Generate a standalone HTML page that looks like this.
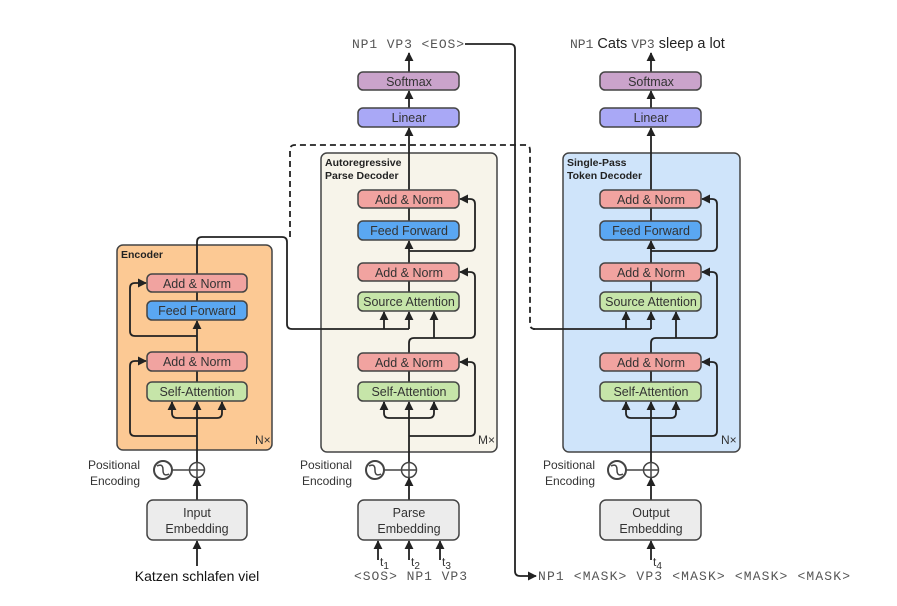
<!DOCTYPE html>
<html><head><meta charset="utf-8"><style>
html,body{margin:0;padding:0;background:#fff;}
svg{display:block;}
text{font-family:"Liberation Sans",sans-serif;fill:#333;}
.m{font-family:"Liberation Mono",monospace;fill:#555;}
</style></head><body>
<svg width="897" height="606" viewBox="0 0 897 606" xmlns="http://www.w3.org/2000/svg">
<defs>
<marker id="a" viewBox="0 0 10 10" refX="9" refY="5" markerWidth="9" markerHeight="9" orient="auto-start-reverse" markerUnits="userSpaceOnUse"><path d="M0,0 L10,5 L0,10 z" fill="#222"/></marker>
</defs>
<rect x="117" y="245" width="155" height="205" rx="6" fill="#fcc994" stroke="#444" stroke-width="1.5"/>
<rect x="321" y="153" width="176" height="299" rx="6" fill="#f7f4ea" stroke="#444" stroke-width="1.5"/>
<rect x="563" y="153" width="177" height="299" rx="6" fill="#cfe4fa" stroke="#444" stroke-width="1.5"/>
<text x="121" y="258" font-size="10.5" font-weight="bold" style="fill:#222">Encoder</text>
<text x="325" y="166" font-size="10.5" font-weight="bold" style="fill:#222">Autoregressive</text>
<text x="325" y="179" font-size="10.5" font-weight="bold" style="fill:#222">Parse Decoder</text>
<text x="567" y="166" font-size="10.5" font-weight="bold" style="fill:#222">Single-Pass</text>
<text x="567" y="179" font-size="10.5" font-weight="bold" style="fill:#222">Token Decoder</text>
<text x="255" y="444" font-size="12">N×</text>
<text x="478" y="444" font-size="12">M×</text>
<text x="721" y="444" font-size="12">N×</text>

<g fill="none" stroke="#222" stroke-width="1.8">
<path d="M290,237 V150 q0,-5 5,-5 H525 q5,0 5,5 V324 q0,5 5,5" stroke-dasharray="6,4"/>
<path d="M197,540 V478" marker-end="url(#a)"/>
<path d="M197,463 V402" marker-end="url(#a)"/>
<path d="M172,402 V413 q0,5 5,5 H217 q5,0 5,-5 V402" />
<path d="M172,410 V402" marker-end="url(#a)"/><path d="M222,410 V402" marker-end="url(#a)"/>
<path d="M197,382 V371"/>
<path d="M197,352 V321" marker-end="url(#a)"/>
<path d="M197,436 H135 q-5,0 -5,-5 V366 q0,-5 5,-5 H146" marker-end="url(#a)"/>
<path d="M197,336 H135 q-5,0 -5,-5 V288 q0,-5 5,-5 H146" marker-end="url(#a)"/>
<path d="M197,301 V292"/>
<path d="M197,274 V242 q0,-5 5,-5 H282 q5,0 5,5 V324 q0,5 5,5 H409"/>
<path d="M384,329 V312" marker-end="url(#a)"/><path d="M409,329 V312" marker-end="url(#a)"/>
<path d="M533,329 H651"/>
<path d="M626,329 V312" marker-end="url(#a)"/><path d="M651,329 V312" marker-end="url(#a)"/>
</g>

<g fill="none" stroke="#222" stroke-width="1.8">
<g id="dl">
<path d="M409,540 V478" marker-end="url(#a)"/>
<path d="M409,463 V402" marker-end="url(#a)"/>
<path d="M384,402 V413 q0,5 5,5 H429 q5,0 5,-5 V402"/>
<path d="M384,410 V402" marker-end="url(#a)"/><path d="M434,410 V402" marker-end="url(#a)"/>
<path d="M409,382 V371"/>
<path d="M409,436 H470 q5,0 5,-5 V367 q0,-5 -5,-5 H460" marker-end="url(#a)"/>
<path d="M409,353 V343 q0,-5 5,-5 H470 q5,0 5,-5 V277 q0,-5 -5,-5 H460" marker-end="url(#a)"/>
<path d="M434,338 V312" marker-end="url(#a)"/>
<path d="M409,292 V281"/>
<path d="M409,263 V241" marker-end="url(#a)"/>
<path d="M409,251 H470 q5,0 5,-5 V204 q0,-5 -5,-5 H460" marker-end="url(#a)"/>
<path d="M409,221 V208"/>
<path d="M409,190 V128" marker-end="url(#a)"/>
<path d="M409,108 V91" marker-end="url(#a)"/>
<path d="M409,72 V53" marker-end="url(#a)"/>
</g>
<use href="#dl" transform="translate(242,0)"/>
<path d="M465,44 H510 q5,0 5,5 V571 q0,5 5,5 H536" marker-end="url(#a)"/>
<path d="M378,560 V541" marker-end="url(#a)"/><path d="M409,560 V541" marker-end="url(#a)"/><path d="M440,560 V541" marker-end="url(#a)"/>
<path d="M651,560 V541" marker-end="url(#a)"/>
<path d="M197,566 V541" marker-end="url(#a)"/>
</g>

<g stroke="#444" stroke-width="1.5" font-size="12.5" text-anchor="middle">
<rect x="147" y="274" width="100" height="18" rx="5" fill="#f1a3a0"/><text x="197" y="288" stroke="none">Add &amp; Norm</text>
<rect x="147" y="301" width="100" height="19" rx="5" fill="#5aa7f2"/><text x="197" y="315" stroke="none">Feed Forward</text>
<rect x="147" y="352" width="100" height="19" rx="5" fill="#f1a3a0"/><text x="197" y="366" stroke="none">Add &amp; Norm</text>
<rect x="147" y="382" width="100" height="19" rx="5" fill="#c6e5a9"/><text x="197" y="396" stroke="none">Self-Attention</text>
<g id="ds">
<rect x="358" y="72" width="101" height="18" rx="5" fill="#caa3cb"/><text x="409" y="86" stroke="none">Softmax</text>
<rect x="358" y="108" width="101" height="19" rx="5" fill="#a9a8f6"/><text x="409" y="122" stroke="none">Linear</text>
<rect x="358" y="190" width="101" height="18" rx="5" fill="#f1a3a0"/><text x="409" y="204" stroke="none">Add &amp; Norm</text>
<rect x="358" y="221" width="101" height="19" rx="5" fill="#5aa7f2"/><text x="409" y="235" stroke="none">Feed Forward</text>
<rect x="358" y="263" width="101" height="18" rx="5" fill="#f1a3a0"/><text x="409" y="277" stroke="none">Add &amp; Norm</text>
<rect x="358" y="292" width="101" height="19" rx="5" fill="#c6e5a9"/><text x="409" y="306" stroke="none">Source Attention</text>
<rect x="358" y="353" width="101" height="18" rx="5" fill="#f1a3a0"/><text x="409" y="367" stroke="none">Add &amp; Norm</text>
<rect x="358" y="382" width="101" height="19" rx="5" fill="#c6e5a9"/><text x="409" y="396" stroke="none">Self-Attention</text>
<circle cx="409" cy="470" r="7.5" fill="#fff"/><path d="M401.5,470 H416.5 M409,462.5 V477.5" fill="none"/>
<circle cx="375" cy="470" r="9" fill="#fff" stroke-width="2"/><path d="M369,466 q6,-3 6,4 q0,7 6,4" fill="none"/>
<path d="M384,470 H401" fill="none"/>
<rect x="358" y="500" width="101" height="40" rx="6" fill="#ececec"/>
</g>
<use href="#ds" transform="translate(242,0)"/>
<circle cx="197" cy="470" r="7.5" fill="#fff"/><path d="M189.5,470 H204.5 M197,462.5 V477.5" fill="none"/>
<circle cx="163" cy="470" r="9" fill="#fff" stroke-width="2"/><path d="M157,466 q6,-3 6,4 q0,7 6,4" fill="none"/>
<path d="M172,470 H189" fill="none"/>
<rect x="147" y="500" width="100" height="40" rx="6" fill="#ececec"/>
</g>
<g font-size="12.5" text-anchor="middle">
<text x="197" y="517">Input</text><text x="197" y="533">Embedding</text>
<text x="409" y="517">Parse</text><text x="409" y="533">Embedding</text>
<text x="651" y="517">Output</text><text x="651" y="533">Embedding</text>
</g>
<g font-size="12" text-anchor="end">
<text x="140" y="469">Positional</text><text x="140" y="485">Encoding</text>
<text x="352" y="469">Positional</text><text x="352" y="485">Encoding</text>
<text x="595" y="469">Positional</text><text x="595" y="485">Encoding</text>
</g>
<text x="197" y="581" font-size="14" text-anchor="middle" style="fill:#111">Katzen schlafen viel</text>
<g font-size="12">
<text x="380" y="566">t<tspan font-size="10" dy="3">1</tspan></text>
<text x="411" y="566">t<tspan font-size="10" dy="3">2</tspan></text>
<text x="442" y="566">t<tspan font-size="10" dy="3">3</tspan></text>
<text x="653" y="566">t<tspan font-size="10" dy="3">4</tspan></text>
</g>
<text class="m" x="354" y="580" font-size="13" textLength="113" lengthAdjust="spacing">&lt;SOS&gt; NP1 VP3</text>
<text class="m" x="538" y="580" font-size="13" textLength="312" lengthAdjust="spacing">NP1 &lt;MASK&gt; VP3 &lt;MASK&gt; &lt;MASK&gt; &lt;MASK&gt;</text>
<text class="m" x="352" y="48" font-size="13" textLength="112" lengthAdjust="spacing">NP1 VP3 &lt;EOS&gt;</text>
<text x="570" y="48" font-size="14.5" style="fill:#222"><tspan class="m" font-size="13">NP1</tspan> Cats <tspan class="m" font-size="13">VP3</tspan> sleep a lot</text>
</svg>
</body></html>
